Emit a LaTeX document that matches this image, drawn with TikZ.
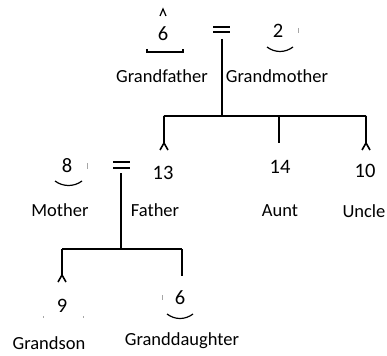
\documentclass[tikz,border=0pt]{standalone}
\usepackage{fontspec}
\setmainfont{Carlito}
\begin{document}
\begin{tikzpicture}[x=1pt,y=-1pt,
  lbl/.style={inner sep=0pt,anchor=base,font=\fontsize{18.5}{20}\selectfont},
  num/.style={inner sep=0pt,anchor=base,font=\fontsize{20.5}{22}\selectfont},
  ln/.style={line width=1.6pt,line cap=butt},
  thin/.style={line width=1.2pt},
  faint/.style={line width=1pt,black!35}]
\useasboundingbox (0,0) rectangle (387,355);
% texts
\node[num] (n6a) at (163,41) {6};
\node[num] (n2) at (278,38) {2};
\node[lbl] (gf) at (162,83) {Grandfather};
\node[lbl] (gm) at (277,83) {Grandmother};
\node[num] (n13) at (163,179) {13};
\node[num] (n14) at (280,173) {14};
\node[num] (n10) at (365,178) {10};
\node[num] (n8) at (67,172) {8};
\node[lbl] (mo) at (60,216) {Mother};
\node[lbl] (fa) at (155,216) {Father};
\node[lbl] (au) at (280,216) {Aunt};
\node[lbl] (un) at (364,217) {Uncle};
\node[num] (n9) at (62,312) {9};
\node[num] (n6b) at (180,304) {6};
\node[lbl] (gs) at (49,349) {Grandson};
\node[lbl] (gd) at (182,345) {Granddaughter};
% coordinates
\coordinate (c1) at (222,39);
\coordinate (c1b) at (222,116);
\coordinate (bL) at (164,116);
\coordinate (bR) at (366,116);
\coordinate (bM) at (279,116);
\coordinate (tL) at (164,143);
\coordinate (tM) at (279,143);
\coordinate (tR) at (366,143);
\coordinate (c2) at (121,173);
\coordinate (c2b) at (121,249);
\coordinate (dL) at (62,249);
\coordinate (dR) at (182,249);
\coordinate (eL) at (62,275);
\coordinate (eR) at (182,276);
% top couple
\draw[ln] (213,27) -- (230,27) (213,32) -- (230,32);
\draw[ln] (c1) -- (c1b);
\draw[ln] (bL) -- (bR);
\draw[ln] (bL) -- (tL) (tL) -- ++(-4,7) (tL) -- ++(4,7);
\draw[ln] (bM) -- (tM);
\draw[ln] (bR) -- (tR) (tR) -- ++(-4,7) (tR) -- ++(4,7);
% marks near top
\draw[thin] (160,16) -- (163,9) -- (166,16);
\draw[thin] (147,49) -- (147,52) -- (183,52) -- (183,49);
\draw[thin] (267,47) .. controls (275,53) and (285,53) .. (293,47);
\draw[faint] (298,28) -- (298,33);
% second couple
\draw[ln] (113,162) -- (130,162) (113,168) -- (130,168);
\draw[thin] (55,181) .. controls (63,187) and (74,187) .. (82,181);
\draw[faint] (87,163) -- (87,169);
\draw[ln] (c2) -- (c2b);
\draw[ln] (dL) -- (dR);
\draw[ln] (dL) -- (eL) (eL) -- ++(-4,7) (eL) -- ++(4,7);
\draw[ln] (dR) -- (eR);
% bottom marks
\draw[thin] (167,314) .. controls (175,320) and (185,320) .. (193,314);
\draw[faint] (162,295) -- (162,300);
\draw[faint] (43,316) -- (43,318) (83,316) -- (83,318);
\end{tikzpicture}
\end{document}
